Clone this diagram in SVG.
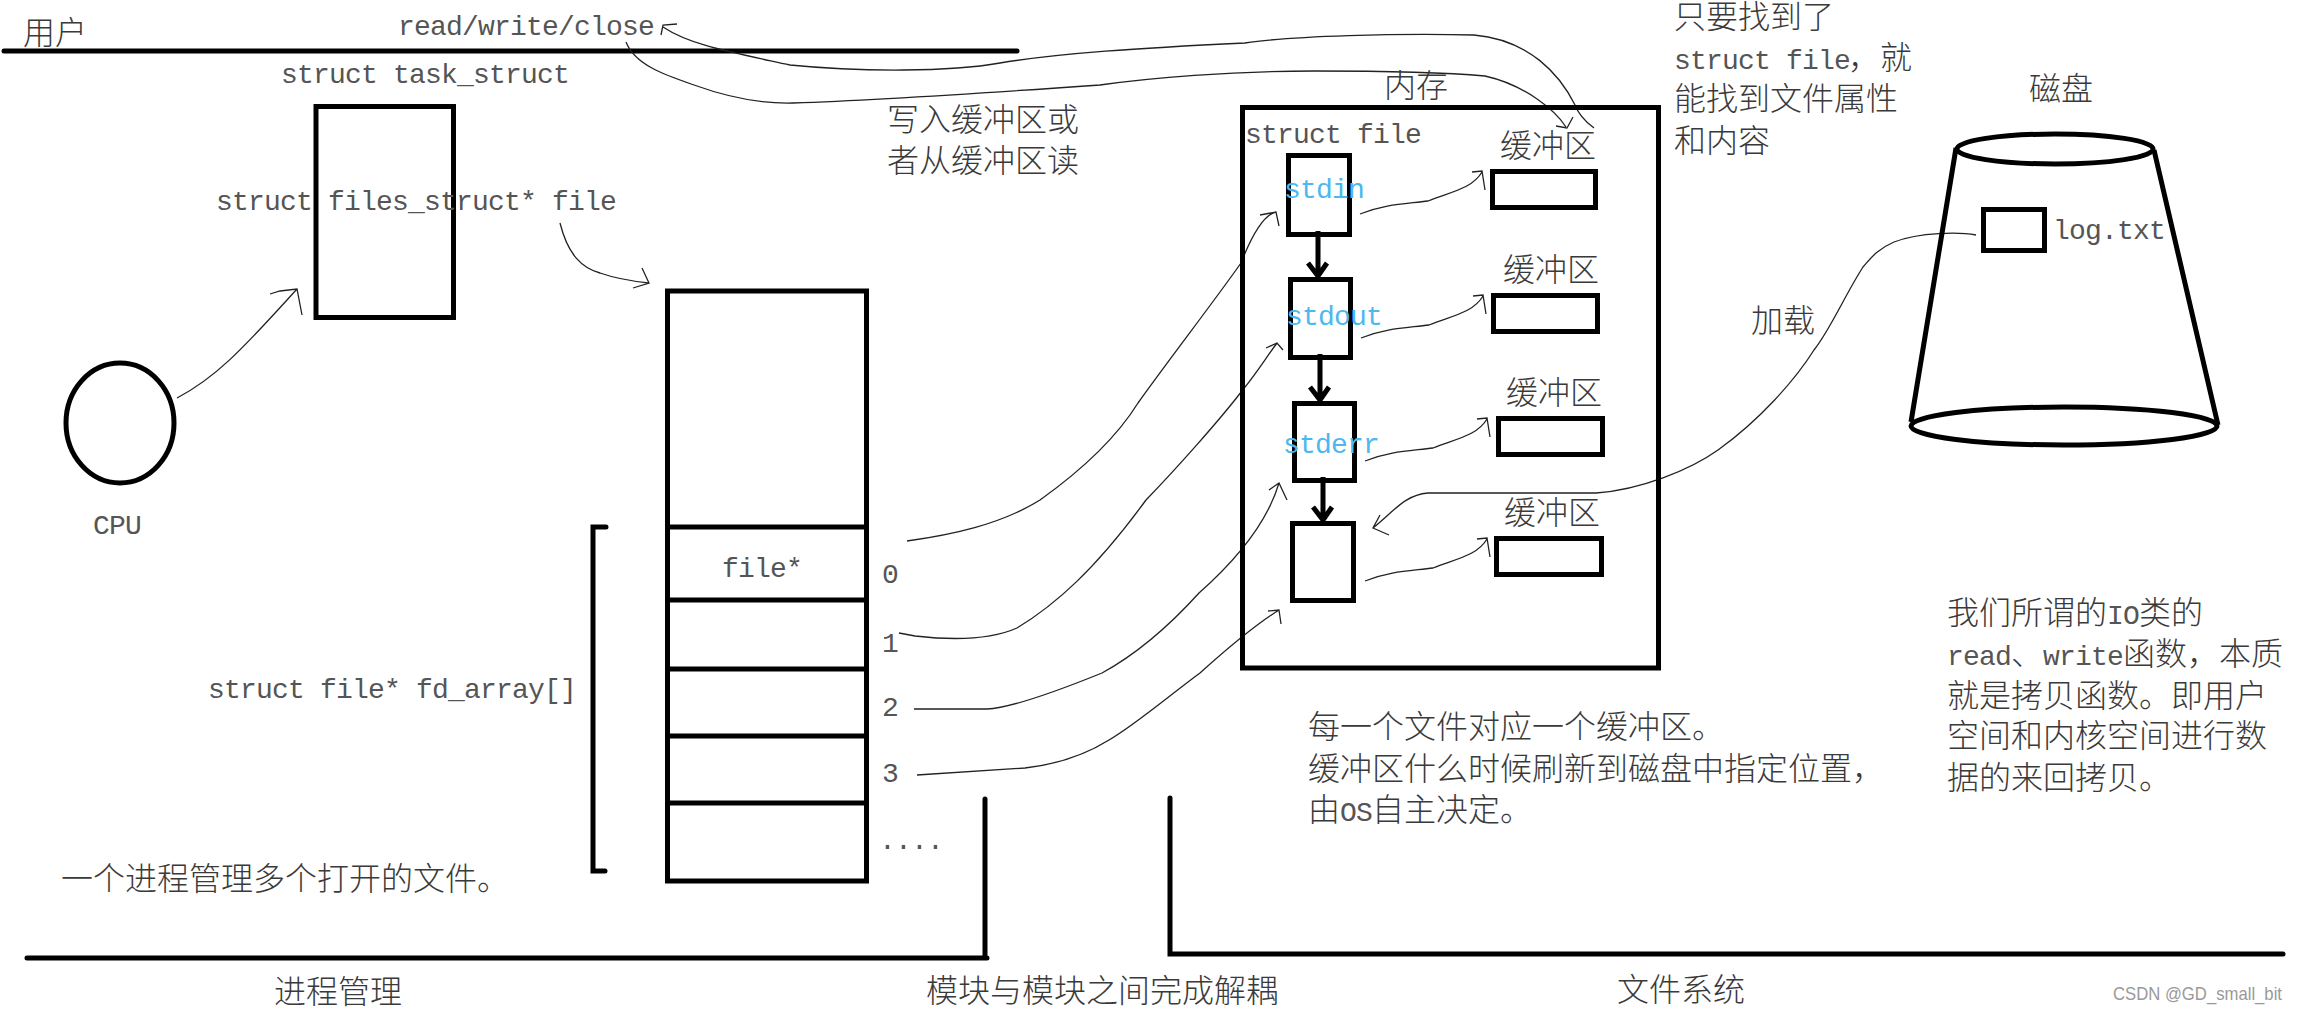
<svg xmlns="http://www.w3.org/2000/svg" width="2297" height="1012" viewBox="0 0 2297 1012">
<style>
text{fill:#3a3a3a;font-family:"Noto Sans CJK SC","Liberation Mono",sans-serif;font-size:32px;font-weight:300}
.m{font-family:"Liberation Mono","Noto Sans CJK SC",monospace;font-size:28px;letter-spacing:-.8px;font-weight:400;fill:#555}
.b{fill:#4db8f0}
.box{fill:none;stroke:#000;stroke-width:5}
.thick{fill:none;stroke:#000;stroke-width:5;stroke-linecap:round}
.thin{fill:none;stroke:#222;stroke-width:1.3}
.link{fill:none;stroke:#000;stroke-width:5}
.wm{fill:#999;font-family:"Liberation Sans",sans-serif;font-size:19px;font-weight:400}
</style>
<defs>
<g id="bufArrow"><path class="thin" d="M0 0C25-10 45-10 68-13C90-22 112-25 122-42M112-42L122-43L125-24"/></g>
</defs>
<rect width="2297" height="1012" fill="#fff"/>

<g id="dividers">
<path class="thick" d="M4 51H1017"/>
<path class="thick" d="M27 958H987M985 799V958"/>
<path class="thick" d="M1170 798V954H2283"/>
</g>

<g id="connectors">
<path class="thin" d="M663 27C690 45 730 52 790 65C860 72 950 72 1000 63C1060 53 1140 48 1245 43C1290 36 1400 33 1474 35C1530 40 1560 75 1575 105C1580 118 1590 125 1594 128M677 24L663 25L661 35"/>
<path class="thin" d="M626 42C635 65 665 75 694 85C730 98 760 104 793 103C880 100 1000 92 1100 85C1150 78 1230 71 1314 71C1380 71 1440 72 1485 76C1525 85 1555 110 1566 127M1573 117L1567 128L1556 126"/>
<path class="thin" d="M177 398C215 378 240 352 297 289M270 294L280 291L297 289L302 315"/>
<path class="thin" d="M560 223C568 255 582 268 600 273C620 280 640 282 649 283M642 268L649 283L633 288"/>
<path class="thin" d="M907 541C950 535 1000 525 1040 500C1075 475 1115 440 1138 403C1165 365 1215 300 1241 263C1250 240 1262 215 1276 212M1260 215L1276 212L1279 226"/>
<path class="thin" d="M899 633L915 636C950 640 990 640 1017 628C1055 605 1095 570 1146 500C1175 470 1220 420 1245 387C1255 375 1268 355 1277 343M1266 348L1277 343L1283 350"/>
<path class="thin" d="M914 709H987C1010 708 1060 690 1102 673C1135 655 1170 625 1199 593C1225 570 1265 530 1279 483M1269 490L1279 483L1287 500"/>
<path class="thin" d="M917 775L1025 768C1060 764 1085 755 1109 740C1135 725 1170 695 1200 673C1220 655 1255 625 1279 610M1268 611L1279 610L1281 624"/>
<path class="thin" d="M1976 235C1960 232 1920 232 1894 242C1875 250 1868 262 1863 267C1845 295 1830 330 1814 350C1795 380 1760 420 1718 450C1690 470 1640 490 1596 493H1428C1405 495 1395 510 1373 528M1389 535L1373 528L1380 515"/>
<use href="#bufArrow" x="1360" y="214"/>
<use href="#bufArrow" x="1361" y="338"/>
<use href="#bufArrow" x="1365" y="461"/>
<use href="#bufArrow" x="1365" y="581"/>
<path class="link" d="M1318 231V276M1308 263L1318 276L1327 263"/>
<path class="link" d="M1320 354V400M1310 387L1320 400L1329 387"/>
<path class="link" d="M1323 477V520M1313 507L1323 520L1332 507"/>
</g>

<g id="user-labels">
<text x="23" y="44">用户</text>
<text class="m" x="398" y="35">read/write/close</text>
<text class="m" x="281" y="83">struct task_struct</text>
<text x="887" y="131">写入缓冲区或</text>
<text x="887" y="172">者从缓冲区读</text>
</g>

<g id="task-struct">
<rect class="box" x="316" y="106.5" width="137.5" height="211"/>
<text class="m" x="216" y="210">struct files_struct* file</text>
</g>

<g id="cpu">
<ellipse class="box" cx="120" cy="423" rx="54" ry="60"/>
<text class="m" x="93" y="534">CPU</text>
</g>

<g id="fd-array">
<rect class="box" x="667.5" y="291" width="199" height="590"/>
<path class="box" d="M665 527H869M665 600H869M665 669H869M665 736H869M665 803H869"/>
<text class="m" x="722" y="577">file*</text>
<text class="m" x="882" y="583">0</text>
<text class="m" x="882" y="652">1</text>
<text class="m" x="882" y="716">2</text>
<text class="m" x="882" y="782">3</text>
<text class="m" x="879" y="849">....</text>
<path class="thick" d="M606 527H593V871H605"/>
<text class="m" x="208" y="698">struct file* fd_array[]</text>
<text x="61" y="890">一个进程管理多个打开的文件。</text>
</g>

<g id="memory">
<rect class="box" x="1242.5" y="107.5" width="416" height="560.5"/>
<text x="1384" y="97">内存</text>
<text class="m" x="1245" y="143">struct file</text>
</g>

<g id="file-0"><rect class="box" x="1288.5" y="155.5" width="61" height="79"/><text class="m b" x="1284" y="198">stdin</text></g>
<g id="file-1"><rect class="box" x="1290.5" y="279.5" width="60" height="78"/><text class="m b" x="1286" y="325">stdout</text></g>
<g id="file-2"><rect class="box" x="1294.5" y="403.5" width="60" height="77"/><text class="m b" x="1283" y="453">stderr</text></g>
<g id="file-3"><rect class="box" x="1292.5" y="523.5" width="61" height="77"/></g>

<g id="buffer-0"><rect class="box" x="1492.5" y="171.5" width="103" height="36"/><text x="1500" y="157">缓冲区</text></g>
<g id="buffer-1"><rect class="box" x="1493.5" y="295.5" width="104" height="36"/><text x="1503" y="281">缓冲区</text></g>
<g id="buffer-2"><rect class="box" x="1498.5" y="418.5" width="104" height="36"/><text x="1506" y="404">缓冲区</text></g>
<g id="buffer-3"><rect class="box" x="1496.5" y="538.5" width="105" height="36"/><text x="1504" y="524">缓冲区</text></g>

<g id="note-file">
<text x="1674" y="28">只要找到了</text>
<text x="1674" y="69"><tspan class="m">struct file</tspan><tspan x="1848">，就</tspan></text>
<text x="1674" y="110">能找到文件属性</text>
<text x="1674" y="152">和内容</text>
</g>

<g id="disk">
<text x="2029" y="100">磁盘</text>
<ellipse class="box" cx="2055" cy="149" rx="98" ry="15"/>
<ellipse class="box" cx="2064" cy="426" rx="153" ry="19"/>
<path class="link" d="M1956 148L1911 422M2154 150L2218 425"/>
<rect class="box" x="1983.5" y="209.5" width="61" height="41"/>
<text class="m" x="2053" y="239">log.txt</text>
<text x="1751" y="332">加载</text>
</g>

<g id="note-buffer">
<text x="1308" y="738">每一个文件对应一个缓冲区。</text>
<text x="1308" y="780">缓冲区什么时候刷新到磁盘中指定位置，</text>
<text x="1308" y="821">由<tspan class="m" x="1340">OS</tspan><tspan x="1372">自主决定。</tspan></text>
</g>

<g id="note-io">
<text x="1947" y="624">我们所谓的<tspan class="m" x="2107">IO</tspan><tspan x="2139">类的</tspan></text>
<text x="1947" y="665"><tspan class="m">read</tspan><tspan x="2011">、</tspan><tspan class="m" x="2043">write</tspan><tspan x="2123">函数，本质</tspan></text>
<text x="1947" y="707">就是拷贝函数。即用户</text>
<text x="1947" y="747">空间和内核空间进行数</text>
<text x="1947" y="789">据的来回拷贝。</text>
</g>

<g id="footer">
<text x="274" y="1003">进程管理</text>
<text x="926" y="1002">模块与模块之间完成解耦</text>
<text x="1617" y="1001">文件系统</text>
<text class="wm" x="2113" y="1000" textLength="169" lengthAdjust="spacingAndGlyphs">CSDN @GD_small_bit</text>
</g>
</svg>
